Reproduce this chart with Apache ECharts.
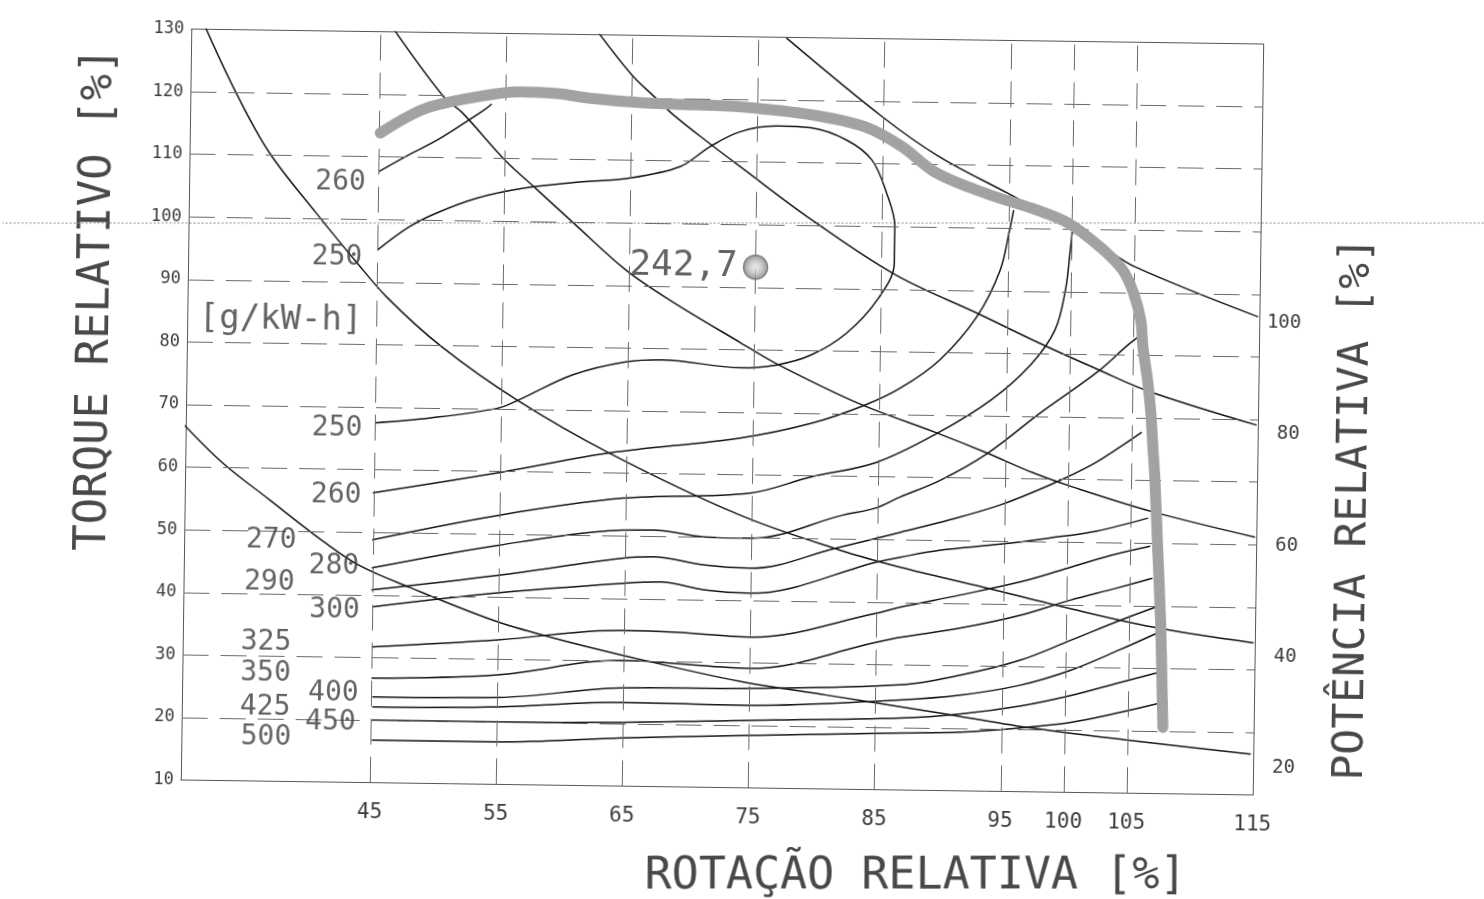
<!DOCTYPE html>
<html><head><meta charset="utf-8">
<script src="https://cdn.jsdelivr.net/npm/echarts@6/dist/echarts.min.js"></script>
<style>
html,body{margin:0;padding:0;background:#fff;overflow:hidden;}
#chart{position:absolute;left:0;top:0;width:1484px;height:899px;transform-origin:722px 412px;transform:rotate(0.8deg);}
</style></head><body><div id="chart"></div>
<script>
// ---- tick labels ----
const xLabels = [45, 55, 65, 75, 85, 95, 100, 105, 115];
const powerLabels = [20, 40, 60, 80, 100];
const gridX = [45, 55, 65, 75, 85, 95, 100, 105];
const gridY = [20, 30, 40, 50, 60, 70, 80, 90, 100, 110, 120];

// ---- full load (max torque) curve [rotação %, torque %] ----
const fullLoad = [[45.1,113.8],[47.1,116.3],[49.0,118.1],[52.7,119.8],[56.1,120.7],[59.2,120.5],[61.8,119.8],[66.0,119.2],[70.4,119.0],[73.6,118.8],[79.2,117.7],[83.5,115.9],[86.4,112.9],[89.3,108.6],[93.5,105.3],[97.2,103.0],[99.7,101.0],[102.3,97.2],[104.1,93.6],[105.0,89.9],[105.6,85.6],[105.8,81.3],[106.2,76.1],[106.5,70.8],[106.7,65.4],[106.9,60.1],[107.2,48.9],[107.5,37.7],[107.7,26.6],[107.8,20.6]];

// ---- constant power lines ----
const power20 = [[29.9,66.7],[33.0,60.7],[36.7,55.0],[41.2,48.2],[43.9,44.7],[47.9,41.3],[54.6,36.2],[59.2,33.6],[64.9,30.9],[74.2,27.0],[81.1,25.0],[90.1,22.4],[97.0,20.3],[104.9,18.5],[114.8,16.5]];
const power40 = [[31.1,130.4],[33.5,120.4],[36.3,110.5],[40.1,100.9],[43.2,93.5],[45.8,87.6],[50.2,79.8],[56.2,71.5],[63.6,63.2],[74.0,53.6],[82.0,48.2],[86.8,45.6],[93.4,42.6],[99.8,39.6],[106.9,36.6],[114.9,34.3]];
const power60 = [[46.1,130.3],[50.1,119.7],[51.6,117.2],[55.0,109.8],[57.6,105.1],[60.5,99.9],[64.7,92.5],[68.2,87.8],[73.9,81.1],[76.7,77.9],[83.3,71.7],[89.6,67.1],[93.6,64.0],[97.2,61.0],[100.4,58.8],[106.8,55.0],[114.9,51.2]];
const power80 = [[62.3,130.3],[65.0,123.6],[66.8,120.2],[68.3,117.4],[71.2,112.9],[73.7,109.2],[79.4,100.9],[86.1,92.3],[92.9,86.1],[97.6,81.7],[102.4,77.5],[106.4,74.2],[114.9,69.1]];
const power100 = [[77.2,129.9],[84.9,117.5],[89.5,111.2],[94.9,105.6],[99.1,101.1],[102.3,97.5],[105.1,94.1],[114.9,86.4]];

// ---- specific consumption contours [g/kW-h] ----
const bsfc260a = [[45.0,107.6],[47.4,110.4],[49.6,112.8],[51.9,115.8],[53.3,117.7],[53.9,118.7]];
const bsfc250 = [[45.0,95.1],[47.5,98.9],[49.7,101.2],[52.8,103.6],[56.5,105.3],[60.4,106.3],[65.0,107.2],[68.9,109.1],[71.2,112.3],[73.6,114.8],[76.5,115.8],[79.2,115.6],[82.1,113.7],[84.1,110.6],[85.3,105.4],[86.0,100.0],[86.0,94.2],[84.8,88.6],[82.3,82.9],[79.5,79.3],[76.7,77.6],[73.9,77.1],[67.7,78.2],[64.8,77.8],[60.6,75.6],[56.4,71.5],[54.7,70.1],[49.4,68.4],[45.0,67.5]];
const bsfc260b = [[44.9,56.3],[55.1,59.9],[63.6,63.2],[74.0,65.9],[79.6,68.4],[83.8,71.4],[86.6,74.2],[89.7,78.8],[92.6,85.8],[94.4,93.3],[95.1,99.7],[95.4,102.9]];
const bsfc270 = [[44.9,48.8],[54.9,53.0],[64.7,56.0],[74.8,57.1],[79.6,59.8],[84.8,62.3],[89.6,67.1],[93.8,72.5],[96.9,78.2],[98.8,83.8],[99.6,90.3],[99.9,95.9],[100.1,100.2]];
const bsfc280 = [[44.9,44.3],[54.9,48.2],[64.7,50.9],[67.2,51.0],[71.3,50.0],[74.9,49.9],[82.2,53.8],[84.8,55.0],[86.7,56.8],[89.9,59.6],[93.6,64.0],[97.7,70.5],[102.2,77.2],[104.6,81.6],[105.6,83.2]];
const bsfc290 = [[44.9,40.8],[54.9,43.4],[64.7,46.4],[67.2,46.7],[71.3,45.5],[74.9,45.1],[81.7,48.5],[86.8,51.2],[90.7,53.3],[94.7,55.8],[98.6,59.1],[101.8,62.3],[104.1,65.3],[105.8,67.7]];
const bsfc300 = [[45.0,38.1],[54.9,40.6],[64.8,42.4],[67.8,42.7],[71.4,41.5],[74.9,41.1],[85.0,46.4],[86.8,47.2],[89.9,48.4],[94.7,49.5],[98.6,50.6],[102.3,51.8],[106.4,54.0]];
const bsfc325 = [[45.0,31.7],[55.0,33.1],[64.8,34.9],[69.4,34.7],[75.0,34.1],[85.0,38.2],[86.8,39.2],[91.6,41.3],[96.3,43.5],[99.6,45.5],[103.4,47.9],[106.6,49.5]];
const bsfc350 = [[45.0,26.7],[55.0,27.5],[64.8,30.1],[75.0,29.1],[85.1,33.6],[86.9,34.4],[91.6,36.0],[96.4,38.2],[100.3,40.7],[103.9,42.7],[106.8,44.4]];
const bsfc400 = [[45.1,23.7],[55.1,23.9],[64.9,25.7],[75.0,25.9],[86.9,26.8],[91.7,28.5],[96.4,31.0],[100.4,34.3],[104.3,37.6],[107.1,39.8]];
const bsfc425 = [[45.1,22.1],[55.1,22.4],[64.9,23.4],[75.0,23.2],[86.9,24.4],[91.7,25.3],[96.4,27.0],[100.4,29.5],[104.3,32.9],[107.2,35.6]];
const bsfc450 = [[45.1,20.0],[55.1,20.0],[64.9,20.2],[75.1,20.8],[87.0,21.5],[91.8,22.3],[96.5,23.7],[100.5,25.5],[104.4,27.7],[107.5,29.4]];
const bsfc500 = [[45.1,16.8],[55.1,16.8],[65.0,17.7],[75.1,18.4],[87.0,19.1],[91.8,19.4],[96.5,20.2],[100.5,21.2],[104.4,22.9],[107.6,24.5]];

// ---- contour labels [text, rotação, torque] ----
const contourLabels = [['260',42.0,105.9],['250',41.8,93.9],['250',42.0,66.6],['260',42.0,55.9],['270',36.9,48.5],['280',41.9,44.4],['290',36.8,41.8],['300',42.0,37.5],['325',36.6,32.2],['350',36.6,27.3],['400',42.0,24.2],['425',36.6,21.8],['450',41.8,19.6],['500',36.7,17.0]];
const unitLabel = ['[g/kW-h]', 37.4, 83.7];
const optimum = ['242,7', 75.0, 93.2];

const MONO = "'DejaVu Sans Mono', 'Liberation Mono', monospace";
const INK = '#151515';
const TXT = '#3c3c3c';
const TITLE = '#484848';

function thin(data, name) {
  return {type:'line', name:name, data:data, smooth:0.35, showSymbol:false, symbol:'none', silent:true,
    lineStyle:{color:INK, width:1.5}, z:3};
}

const chart = echarts.init(document.getElementById('chart'), null, {renderer:'canvas'});
const axisLineStyle = {color:'#555', width:1};
const option = {
  animation:false,
  backgroundColor:'#fff',
  grid:{left:186, top:36.5, width:1072, height:751, containLabel:false},
  xAxis:[
    {type:'value', min:30, max:115, position:'bottom',
      axisLine:{show:true, onZero:false, lineStyle:axisLineStyle}, axisTick:{show:false}, splitLine:{show:false},
      axisLabel:{customValues:xLabels, fontFamily:MONO, fontSize:21, color:TXT, margin:20}},
    {type:'value', min:30, max:115, position:'top',
      axisLine:{show:true, onZero:false, lineStyle:axisLineStyle}, axisTick:{show:false}, splitLine:{show:false}, axisLabel:{show:false}}
  ],
  yAxis:[
    {type:'value', min:10, max:130, interval:10, position:'left',
      axisLine:{show:true, onZero:false, lineStyle:axisLineStyle}, axisTick:{show:false}, splitLine:{show:false},
      axisLabel:{fontFamily:MONO, fontSize:17, color:TXT, margin:7}},
    {type:'value', min:15.1, max:150.1, position:'right',
      axisLine:{show:true, onZero:false, lineStyle:axisLineStyle}, axisTick:{show:false}, splitLine:{show:false},
      axisLabel:{customValues:powerLabels, fontFamily:MONO, fontSize:19, color:TXT, align:'right', margin:42}}
  ],
  graphic:[
    {type:'line', shape:{x1:-5, y1:233.2, x2:1490, y2:212.3}, style:{stroke:'#8a8a8a', lineWidth:1, lineDash:[2,2]}, silent:true, z:1},
    {type:'text', x:96, y:308, rotation:Math.PI/2, style:{text:'TORQUE RELATIVO [%]', font:"44px 'DejaVu Sans Mono', monospace", fill:TITLE, align:'center', verticalAlign:'middle'}},
    {type:'text', x:922, y:874, rotation:0.014, style:{text:'ROTAÇÃO RELATIVA [%]', font:"45px 'DejaVu Sans Mono', monospace", fill:TITLE, align:'center', verticalAlign:'middle'}},
    {type:'text', x:1356, y:500, rotation:Math.PI/2, style:{text:'POTÊNCIA RELATIVA [%]', font:"43px 'DejaVu Sans Mono', monospace", fill:TITLE, align:'center', verticalAlign:'middle'}}
  ],
  series:[
    {type:'line', name:'grid', data:[], silent:true, z:1,
      markLine:{symbol:['none','none'], silent:true, animation:false, label:{show:false},
        lineStyle:{color:'#6a6a6a', width:1, type:[26,12]},
        emphasis:{disabled:true},
        data:[...gridX.map(v => ({xAxis:v})), ...gridY.map(v => ({yAxis:v}))]}},
    thin(power20,'P20'), thin(power40,'P40'), thin(power60,'P60'), thin(power80,'P80'), thin(power100,'P100'),
    thin(bsfc260a,'260a'), thin(bsfc250,'250'), thin(bsfc260b,'260b'), thin(bsfc270,'270'), thin(bsfc280,'280'),
    thin(bsfc290,'290'), thin(bsfc300,'300'), thin(bsfc325,'325'), thin(bsfc350,'350'), thin(bsfc400,'400'),
    thin(bsfc425,'425'), thin(bsfc450,'450'), thin(bsfc500,'500'),
    {type:'line', name:'fullLoad', data:fullLoad, smooth:0.35, showSymbol:false, symbol:'none', silent:true, z:5,
      lineStyle:{color:'#a2a2a2', width:11, cap:'round', join:'round'}},
    {type:'scatter', name:'labels', silent:true, z:6, symbolSize:0,
      data:contourLabels.map(d => ({name:d[0], value:[d[1], d[2]]})),
      label:{show:true, position:'inside', formatter:'{b}', fontFamily:MONO, fontSize:28, color:TXT}},
    {type:'scatter', name:'unit', silent:true, z:6, symbolSize:0,
      data:[{name:unitLabel[0], value:[unitLabel[1], unitLabel[2]]}],
      label:{show:true, position:'inside', formatter:'{b}', fontFamily:MONO, fontSize:34, color:TXT}},
    {type:'scatter', name:'optimum', silent:true, z:7, symbol:'circle', symbolSize:24,
      data:[{name:optimum[0], value:[optimum[1], optimum[2]]}],
      itemStyle:{color:{type:'radial', x:0.5, y:0.5, r:0.5, colorStops:[{offset:0,color:'#e8e8e8'},{offset:0.45,color:'#c4c4c4'},{offset:1,color:'#7a7a7a'}]}, borderColor:'#6f6f6f', borderWidth:1.5},
      label:{show:true, position:'left', distance:5, formatter:'{b}', fontFamily:MONO, fontSize:36, color:TXT}}
  ]
};
chart.setOption(option);
</script></body></html>
